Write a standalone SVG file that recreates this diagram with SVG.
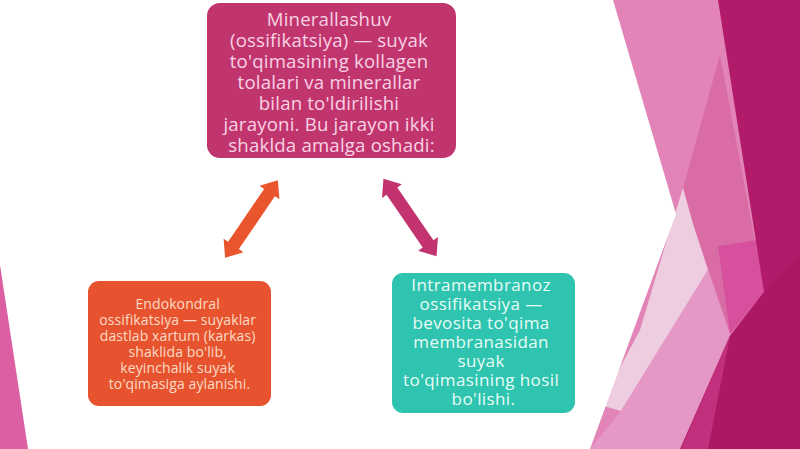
<svg xmlns="http://www.w3.org/2000/svg" width="800" height="449" viewBox="0 0 800 449">
<style>
.txt{font-family:"Open Sans","Noto Sans","Liberation Sans",sans-serif;text-anchor:middle}
.t1{font-size:18.6px;letter-spacing:0.2px;fill:#F8D2E3}
.t2{font-size:14px;letter-spacing:0.1px;fill:#FBDCC6}
.t3{font-size:17px;letter-spacing:0.4px;fill:#E9FCF6}
.box{stroke:none}
</style>
<defs>
<polygon id="dbl" points="-47,0 -32,-12 -32,-6.5 32,-6.5 32,-12 47,0 32,12 32,6.5 -32,6.5 -32,12"/>
</defs>
<rect width="800" height="449" fill="#FFFFFF"/>
<g id="background">
<polygon points="600,0 800,0 800,449 560,449" fill="#E284B7"/>
<polygon points="720,55 765,295 730,334 693,224 683,188" fill="#D96CA5"/>
<polygon points="718,246 758,240 764,292 730,334" fill="#D6509D"/>
<polygon points="683,188 693,224 708,270 621,411 600,405 640,330 668,236" fill="#EDCDDF"/>
<polygon points="708,270 730,334 680,449 590,449 621,411" fill="#E597C6"/>
<polygon points="718,0 800,0 800,449 680,449 730,336 764,292" fill="#B21B69"/>
<polygon points="764,292 800,255 800,449 708,449 730,336" fill="#A9175F" opacity="0.6"/>
<polygon points="730,336 708,449 681,449" fill="#C0307C"/>
<polygon points="0,0 613,0 676,214 590,449 0,449" fill="#FFFFFF"/>
<polygon points="0,265 28,449 0,449" fill="#DC5EA3"/>
</g>
<g id="connectors">
<use href="#dbl" fill="#E9552D" transform="translate(251.5,219) rotate(-55.8)"/>
<use href="#dbl" fill="#C2336F" transform="translate(410,217.5) rotate(55.6)"/>
</g>
<g id="node-top">
<rect class="box" x="207" y="3" width="249" height="155" rx="13" fill="#C1356F"/>
<text class="txt t1">
<tspan x="331.5" y="25.5">Minerallashuv</tspan>
<tspan x="331.5" y="46.5">(ossifikatsiya) — suyak</tspan>
<tspan x="331.5" y="67.5">to'qimasining kollagen</tspan>
<tspan x="331.5" y="88.5">tolalari va minerallar</tspan>
<tspan x="331.5" y="109.5">bilan to'ldirilishi</tspan>
<tspan x="331.5" y="130.5">jarayoni. Bu jarayon ikki</tspan>
<tspan x="331.5" y="151.5">shaklda amalga oshadi:</tspan>
</text>
</g>
<g id="node-left">
<rect class="box" x="88" y="281" width="183" height="125" rx="11" fill="#E8532F"/>
<text class="txt t2">
<tspan x="179.5" y="309">Endokondral</tspan>
<tspan x="179.5" y="325">ossifikatsiya — suyaklar</tspan>
<tspan x="179.5" y="341">dastlab xartum (karkas)</tspan>
<tspan x="179.5" y="357">shaklida bo'lib,</tspan>
<tspan x="179.5" y="373">keyinchalik suyak</tspan>
<tspan x="179.5" y="389">to'qimasiga aylanishi.</tspan>
</text>
</g>
<g id="node-right">
<rect class="box" x="392" y="273" width="183" height="140" rx="11" fill="#2EC4AF"/>
<text class="txt t3">
<tspan x="483.5" y="291">Intramembranoz</tspan>
<tspan x="483.5" y="310">ossifikatsiya —</tspan>
<tspan x="483.5" y="329">bevosita to'qima</tspan>
<tspan x="483.5" y="348">membranasidan</tspan>
<tspan x="483.5" y="367">suyak</tspan>
<tspan x="483.5" y="386">to'qimasining hosil</tspan>
<tspan x="483.5" y="405">bo'lishi.</tspan>
</text>
</g>
</svg>
